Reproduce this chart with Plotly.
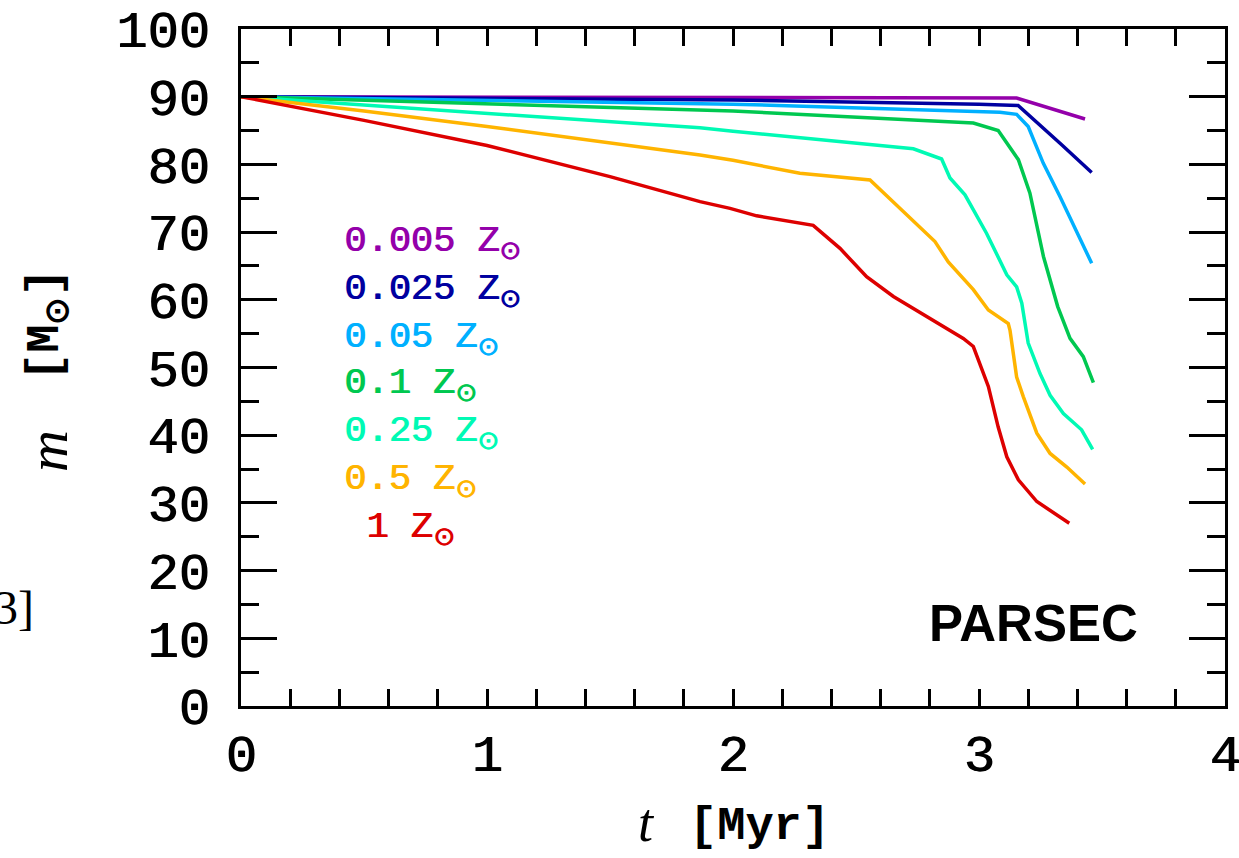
import plotly.graph_objects as go

# Mass evolution m(t) of a 90 Msun star at several metallicities (PARSEC tracks)
labels = ["0.005", "0.025", "0.05", "0.1", "0.25", "0.5", "\u00a01"]
colors = ["#9400AA", "#0000A0", "#00B0FF", "#00C850", "#00FAB4", "#FFB400", "#DD0000"]

t_z0005 = [0.0, 1.0, 2.0, 3.153, 3.431]
m_z0005 = [90.0, 89.95, 89.9, 89.8, 86.7]

t_z0025 = [0.0, 1.0, 2.0, 3.0, 3.159, 3.336, 3.458]
m_z0025 = [90.0, 89.8, 89.5, 88.9, 88.7, 82.9, 78.8]

t_z005 = [0.0, 1.0, 2.0, 3.085, 3.153, 3.2, 3.261, 3.329, 3.458]
m_z005 = [90.0, 89.4, 88.9, 87.7, 87.4, 85.6, 80.2, 75.25, 65.4]

t_z01 = [0.0, 1.0, 2.0, 2.977, 3.078, 3.16, 3.207, 3.262, 3.32, 3.37, 3.424, 3.465]
m_z01 = [90.0, 88.9, 87.9, 86.1, 85.0, 80.7, 75.75, 66.4, 59.0, 54.3, 51.6, 47.75]

t_z025 = [0.0, 1.0, 1.866, 2.0, 2.733, 2.848, 2.882, 2.943, 3.031, 3.113, 3.153, 3.174,
          3.2, 3.248, 3.289, 3.343, 3.417, 3.462]
m_z025 = [90.0, 87.5, 85.4, 84.9, 82.3, 80.8, 78.0, 75.5, 69.8, 63.7, 61.9, 59.5,
          53.6, 49.1, 45.9, 43.2, 40.8, 37.9]

t_z05 = [0.0, 0.5, 1.0, 1.866, 2.0, 2.272, 2.557, 2.679, 2.821, 2.875, 2.977, 3.038,
         3.119, 3.126, 3.153, 3.18, 3.235, 3.289, 3.357, 3.431]
m_z05 = [90.0, 87.9, 85.6, 81.4, 80.6, 78.7, 77.7, 73.5, 68.6, 65.6, 61.5, 58.5,
         56.5, 55.5, 48.6, 45.7, 40.3, 37.3, 35.3, 32.8]

t_z1 = [0.0, 0.5, 1.0, 1.5, 1.866, 1.988, 2.096, 2.326, 2.435, 2.543, 2.652, 2.814,
        2.936, 2.977, 3.038, 3.078, 3.113, 3.16, 3.235, 3.367]
m_z1 = [90.0, 86.5, 82.8, 78.2, 74.5, 73.5, 72.4, 71.0, 67.6, 63.4, 60.5, 57.0,
        54.3, 53.1, 47.2, 41.2, 36.8, 33.4, 30.2, 27.0]

tracks = [(t_z0005, m_z0005), (t_z0025, m_z0025), (t_z005, m_z005), (t_z01, m_z01),
          (t_z025, m_z025), (t_z05, m_z05), (t_z1, m_z1)]

x_ticks = [0, 1, 2, 3, 4]
y_ticks = [0, 10, 20, 30, 40, 50, 60, 70, 80, 90, 100]

MONO = "Liberation Mono"
SERIF = "Liberation Serif"


def heavy(color):
    # slightly thicken the regular monospace strokes
    return f"1px 0px 0px {color}"


fig = go.Figure()
for (t, m), lab, col in zip(tracks, labels, colors):
    fig.add_trace(go.Scatter(x=t, y=m, mode="lines", name=lab,
                             line=dict(color=col, width=3.5), showlegend=False))

# metallicity labels, stacked at the left of the panel
label_t = 0.41
label_m = [68.3, 61.3, 54.2, 47.3, 40.2, 33.2, 26.1]
for lab, col, ym in zip(labels, colors, label_m):
    fig.add_annotation(x=label_t, y=ym, xref="x", yref="y", xanchor="left", yanchor="middle",
                       text=f"{lab} Z<sub>\u2299</sub>", showarrow=False,
                       font=dict(family=MONO, size=37, color=col, shadow=heavy(col)))

fig.add_annotation(x=3.22, y=12.2, xref="x", yref="y", text="<b>PARSEC</b>", showarrow=False,
                   xanchor="center", yanchor="middle",
                   font=dict(family="Liberation Sans", size=51, color="black"))

# axis titles, built from separate pieces (italic symbol + unit)
fig.add_annotation(x=(646 - 241) / 984, y=(706 - 823) / 677, xref="paper", yref="paper",
                   showarrow=False, xanchor="center", yanchor="middle", text="<i>t</i>",
                   font=dict(family=SERIF, size=54, color="black"))
fig.add_annotation(x=(759 - 241) / 984, y=(706 - 826) / 677, xref="paper", yref="paper",
                   showarrow=False, xanchor="center", yanchor="middle", text="[Myr]",
                   font=dict(family=MONO, size=47, color="black", weight="bold"))
fig.add_annotation(x=(47 - 241) / 984, y=(706 - 451) / 677, xref="paper", yref="paper",
                   showarrow=False, xanchor="center", yanchor="middle", textangle=-90,
                   text="<i>m</i>", font=dict(family=SERIF, size=58, color="black"))
fig.add_annotation(x=(48 - 241) / 984, y=(706 - 325) / 677, xref="paper", yref="paper",
                   showarrow=False, xanchor="center", yanchor="middle", textangle=-90,
                   text="[M<sub>\u2299</sub>]",
                   font=dict(family=MONO, size=47, color="black", weight="bold"))
fig.add_annotation(x=(36 - 241) / 984, y=(706 - 607) / 677, xref="paper", yref="paper",
                   showarrow=False, xanchor="right", yanchor="middle", text="3]",
                   font=dict(family=SERIF, size=48, color="black"))

axis_common = dict(showline=True, linecolor="black", linewidth=3, mirror="allticks",
                   ticks="inside", tickcolor="black", tickwidth=3, showgrid=False,
                   zeroline=False, ticklabeloverflow="allow",
                   tickfont=dict(family=MONO, size=52, color="black", shadow=heavy("black")))

fig.update_xaxes(range=[0, 4], tickvals=x_ticks, ticktext=[str(v) for v in x_ticks],
                 ticklen=17, ticklabelstandoff=0,
                 minor=dict(dtick=0.2, ticks="inside", ticklen=17, tickwidth=3, tickcolor="black"),
                 **axis_common)
fig.update_yaxes(range=[0, 100], tickvals=y_ticks, ticktext=[str(v) for v in y_ticks],
                 ticklen=36, ticklabelstandoff=18,
                 minor=dict(dtick=5, ticks="inside", ticklen=18, tickwidth=3, tickcolor="black"),
                 **axis_common)

fig.update_layout(width=1239, height=858, plot_bgcolor="white", paper_bgcolor="white",
                  margin=dict(l=241, r=14, t=29, b=152, autoexpand=False))

fig.write_html("out.html")
